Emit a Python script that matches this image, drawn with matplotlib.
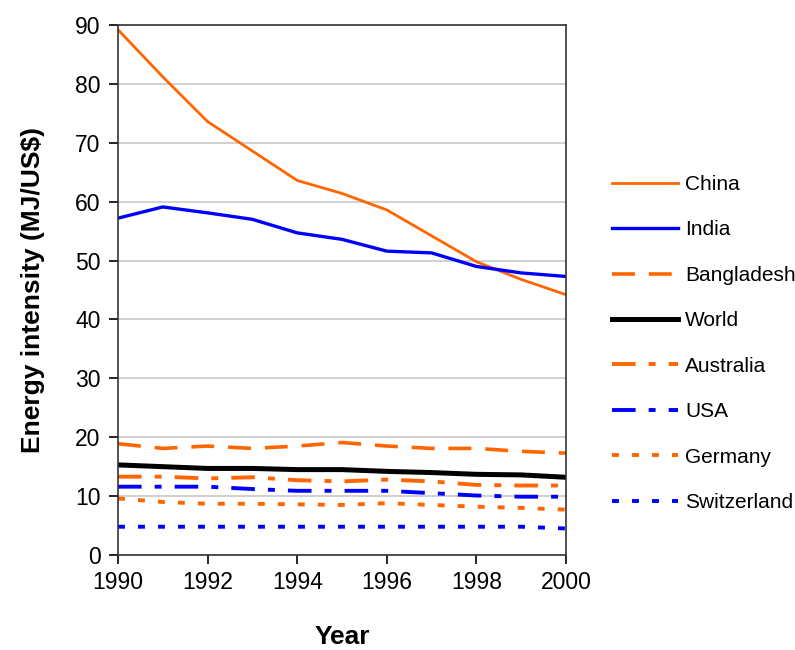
import numpy as np
import matplotlib
matplotlib.use('Agg')
import matplotlib.pyplot as plt

plt.rcParams['font.family'] = ['Liberation Sans', 'DejaVu Sans']
plt.rcParams['lines.scale_dashes'] = False

years = np.arange(1990, 2001)

china = [89.2, 81.2, 73.6, 68.6, 63.6, 61.4, 58.6, 54.2, 49.8, 46.8, 44.2]
india = [57.2, 59.1, 58.1, 57.0, 54.7, 53.6, 51.6, 51.3, 49.0, 47.9, 47.3]
bangladesh = [18.9, 18.1, 18.5, 18.1, 18.5, 19.1, 18.5, 18.1, 18.1, 17.6, 17.3]
world = [15.3, 15.0, 14.7, 14.7, 14.5, 14.5, 14.2, 14.0, 13.7, 13.6, 13.2]
australia = [13.3, 13.3, 13.0, 13.2, 12.7, 12.5, 12.8, 12.5, 11.9, 11.8, 11.8]
usa = [11.6, 11.6, 11.6, 11.2, 10.9, 10.9, 10.9, 10.5, 10.1, 9.9, 9.9]
germany = [9.6, 9.0, 8.7, 8.7, 8.6, 8.5, 8.8, 8.5, 8.2, 8.0, 7.7]
switzerland = [4.8, 4.8, 4.8, 4.8, 4.8, 4.8, 4.8, 4.8, 4.8, 4.8, 4.5]

orange = '#FF6600'
blue = '#0000FF'

fig = plt.figure(figsize=(7.95, 6.5), dpi=100)
ax = fig.add_axes([118 / 795, 95 / 650, 448 / 795, 530 / 650])

ax.plot(years, china, color=orange, lw=2.0, label='China')
ax.plot(years, india, color=blue, lw=2.4, label='India')
ax.plot(years, bangladesh, color=orange, lw=2.6, dashes=(16.5, 10), label='Bangladesh')
ax.plot(years, world, color='black', lw=3.6, label='World')
ax.plot(years, australia, color=orange, lw=2.8, dashes=(17, 9.4, 5, 9.4), label='Australia')
ax.plot(years, usa, color=blue, lw=2.8, dashes=(17, 9.4, 5, 9.4), label='USA')
ax.plot(years, germany, color=orange, lw=2.8, dashes=(5, 9.4), label='Germany')
ax.plot(years, switzerland, color=blue, lw=2.8, dashes=(5, 9.4), label='Switzerland')

ax.set_xlim(1990, 2000)
ax.set_ylim(0, 90)
ax.set_xticks(range(1990, 2001, 2))
ax.set_yticks(range(0, 91, 10))
ax.yaxis.grid(True, color='#c8c8c8', lw=1.2)
ax.set_axisbelow(True)
ax.tick_params(labelsize=16.5, length=6.5, width=1.2, direction='out')
ax.tick_params(axis='y', pad=6)
ax.tick_params(axis='x', pad=5)
for s in ax.spines.values():
    s.set_linewidth(1.2)
    s.set_color('#333333')

ax.set_xlabel('Year', fontsize=19, fontweight='bold', labelpad=22)
ax.set_ylabel('Energy intensity (MJ/US\\$)', fontsize=19, fontweight='bold', labelpad=22)

ax.legend(loc='center left', bbox_to_anchor=(1.103, 0.399), frameon=False,
          fontsize=15, handlelength=3.15, handletextpad=0.35, labelspacing=1.27,
          borderpad=0, borderaxespad=0)

fig.savefig('out.png', dpi=100)
